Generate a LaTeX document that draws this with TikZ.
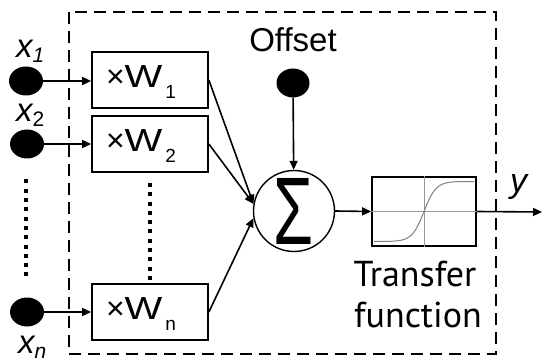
\documentclass[tikz,border=0pt]{standalone}
\usepackage{fontspec}
\setmainfont{Liberation Sans}
\newfontfamily\tffont{PT Sans}
\usetikzlibrary{arrows.meta,shapes.geometric}

% weight label: xW with a low subscript
\newcommand{\wlab}[1]{{\fontsize{32}{32}\selectfont ×\scalebox{1.25}[1]{W}}\hspace{3pt}\raisebox{-11pt}{\fontsize{19}{19}\selectfont #1}}
% input label: italic x with subscript
\newcommand{\xlab}[1]{{\fontsize{33}{33}\selectfont\itshape x}\raisebox{-5pt}{\fontsize{21}{21}\selectfont #1}}

\begin{document}
\begin{tikzpicture}[
  x=1pt,
  y=-1pt,
  line join=miter,
  dot/.style={ellipse,fill=black,minimum width=34pt,minimum height=29pt,inner sep=0pt},
  wbox/.style={draw,line width=1.7pt,minimum height=56pt,text width=88pt,inner xsep=14pt,
    text height=23pt,text depth=8pt},
  sumnode/.style={draw,circle,line width=1.4pt,minimum size=81pt,inner sep=0pt},
  tfbox/.style={draw,line width=1.7pt,minimum width=104pt,minimum height=69pt,inner sep=0pt},
  tfaxis/.style={draw=gray!80,line width=0.8pt},
  tfcurve/.style={draw=gray,line width=1pt},
  arr/.style={line width=1.6pt,-{Triangle[length=9pt,width=8pt]}},
  frame/.style={line width=1.6pt,dash pattern=on 12pt off 7pt},
  dotcol/.style={line width=4pt,dash pattern=on 4pt off 5.3pt},
  lab/.style={inner sep=0pt}
]
  \useasboundingbox (0,0) rectangle (542,361);

  % Neuron boundary.
  \draw[frame] (69,12) rectangle (496,354);

  % Inputs and offset.
  \node[dot] (in1) at (26,81) {};
  \node[dot] (in2) at (27,144) {};
  \node[dot] (inn) at (27,312) {};
  \node[dot,minimum width=33pt] (off) at (293,83) {};

  \node[lab,anchor=base west] (lx1) at (16,58) {\xlab{\itshape 1}};
  \node[lab,anchor=base west] (lx2) at (16,122) {\xlab{2}};
  \node[lab,anchor=base west] (lxn) at (18,353) {\xlab{\itshape n}};
  \node[lab,anchor=base] (lofs) at (293,52) {\fontsize{33}{33}\selectfont Offset};

  % Weights.
  \node[wbox] (w1) at (150,80) {\wlab{1}};
  \node[wbox] (w2) at (150,144) {\wlab{2}};
  \node[wbox] (wn) at (150,312) {\wlab{n}};

  % Omitted inputs.
  \draw[dotcol] (26,179.5) -- (26,277);
  \draw[dotcol] (150,183) -- (150,281);

  % Summation and transfer function.
  \node[sumnode] (sum) at (294,211) {};
  \node[lab] (sig) at (sum.center) {\resizebox{40pt}{66pt}{Σ}};
  \node[tfbox] (tf) at (424,211.5) {};
  \draw[tfaxis] (tf.north) -- (tf.south);
  \draw[tfaxis] (tf.west) -- (tf.east);
  \draw[tfcurve] plot[domain=-50:50,samples=80,smooth] ({424+\x},{211.5-30*tanh(\x/12)});

  \node[lab,anchor=base] (tf1) at (415,287) {\tffont\fontsize{36}{36}\selectfont Transfer};
  \node[lab,anchor=base] (tf2) at (418,327) {\tffont\fontsize{36}{36}\selectfont function};
  \node[lab,anchor=base west] (ly) at (510,193) {\fontsize{34}{34}\selectfont\itshape y};

  % Connections.
  \draw[arr] (in1.east) -- (in1.east -| w1.west);
  \draw[arr] (in2.east) -- (in2.east -| w2.west);
  \draw[arr] (inn.east) -- (inn.east -| wn.west);
  \draw[arr] (w1.east) -- (sum.170);
  \draw[arr] (w2.east) -- (sum.170);
  \draw[arr] (wn.east) -- (sum.190);
  \draw[arr] (off) -- (sum);
  \draw[arr] (sum.east) -- (tf.west);
  \coordinate (yend) at (542,212);
  \draw[arr] (tf.east) -- (yend);
\end{tikzpicture}
\end{document}
